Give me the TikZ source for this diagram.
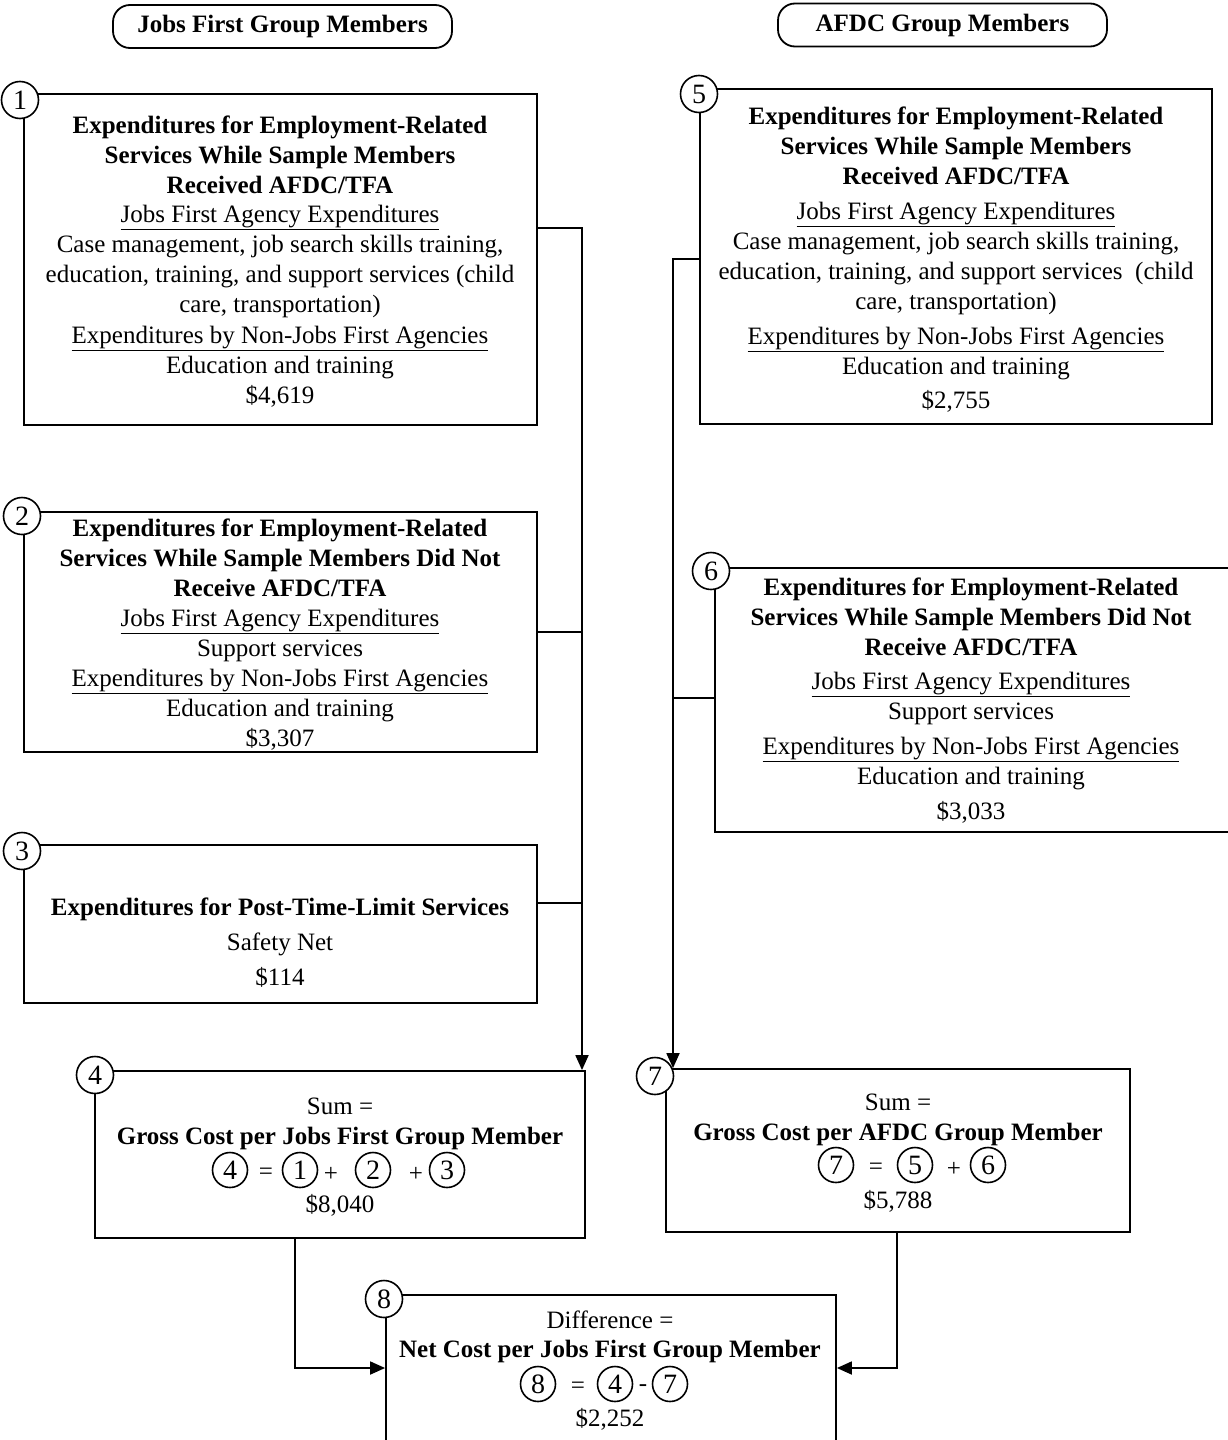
\documentclass[tikz,border=0pt]{standalone}
\usepackage{fontspec}
\setmainfont{Liberation Serif}
\usetikzlibrary{arrows.meta}
\tikzset{
  base/.style={font=\fontsize{25}{30}\selectfont, inner sep=0pt, text height=17pt, text depth=6pt, yshift=-3pt},
  tb/.style={base, font=\fontsize{25}{30}\selectfont\bfseries},
  tr/.style={base},
  box/.style={draw, line width=1.8pt, inner sep=0pt},
  hdr/.style={draw, line width=1.8pt, rounded corners=17pt, minimum width=#1, minimum height=43pt, font=\fontsize{25}{30}\selectfont\bfseries, inner sep=0pt},
  corner/.style={circle, draw, fill=white, line width=1.6pt, minimum size=37pt, inner sep=0pt, font=\fontsize{28}{30}\selectfont},
  eqc/.style={circle, draw, line width=1.6pt, minimum size=35pt, inner sep=0pt, font=\fontsize{28}{30}\selectfont},
  op/.style={inner sep=0pt, font=\fontsize{25}{30}\selectfont, yshift=-4pt},
  conn/.style={line width=1.8pt},
  arr/.style={conn, -{Triangle[length=15pt,width=13pt]}}
}
\begin{document}
\begin{tikzpicture}[x=1pt,y=-1pt]
\useasboundingbox (0,0) rectangle (1227,1440);
% headers
\node[hdr=339pt] (h1) at (282.5,26.5) {Jobs First Group Members};
\node[hdr=329pt] (h2) at (942.5,25) {AFDC Group Members};
% boxes
\node[box, minimum width=513pt, minimum height=331pt] (b1) at (280.5,259.5) {};
\node[box, minimum width=513pt, minimum height=240pt] (b2) at (280.5,632) {};
\node[box, minimum width=513pt, minimum height=158pt] (b3) at (280.5,924) {};
\node[box, minimum width=490pt, minimum height=167pt] (b4) at (340,1154.5) {};
\node[box, minimum width=512pt, minimum height=335pt] (b5) at (956,256.5) {};
\node[box, minimum width=525pt, minimum height=264pt] (b6) at (977.5,700) {};
\node[box, minimum width=464pt, minimum height=163pt] (b7) at (898,1150.5) {};
\node[box, minimum width=450pt, minimum height=160pt] (b8) at (611,1375) {};
% box 1 text
\node[tb] (t11) at (280,125) {Expenditures for Employment-Related};
\node[tb] (t12) at (280,155) {Services While Sample Members};
\node[tb] (t13) at (280,185) {Received AFDC/TFA};
\node[tr] (t14) at (280,214) {\underline{Jobs First Agency Expenditures}};
\node[tr] (t15) at (280,244) {Case management, job search skills training,};
\node[tr] (t16) at (280,274) {education, training, and support services (child};
\node[tr] (t17) at (280,304) {care, transportation)};
\node[tr] (t18) at (280,335) {\underline{Expenditures by Non-Jobs First Agencies}};
\node[tr] (t19) at (280,365) {Education and training};
\node[tr] (t110) at (280,395) {\$4,619};
% box 2 text
\node[tb] (t21) at (280,528) {Expenditures for Employment-Related};
\node[tb] (t22) at (280,558) {Services While Sample Members Did Not};
\node[tb] (t23) at (280,588) {Receive AFDC/TFA};
\node[tr] (t24) at (280,618) {\underline{Jobs First Agency Expenditures}};
\node[tr] (t25) at (280,648) {Support services};
\node[tr] (t26) at (280,678) {\underline{Expenditures by Non-Jobs First Agencies}};
\node[tr] (t27) at (280,708) {Education and training};
\node[tr] (t28) at (280,738) {\$3,307};
% box 3 text
\node[tb] (t31) at (280,907) {Expenditures for Post-Time-Limit Services};
\node[tr] (t32) at (280,942) {Safety Net};
\node[tr] (t33) at (280,977) {\$114};
% box 4 text
\node[tr] (t41) at (340,1106) {Sum =};
\node[tb] (t42) at (340,1136) {Gross Cost per Jobs First Group Member};
\node[eqc] (e41) at (230,1170) {4};
\node[op] (o41) at (266,1170) {=};
\node[eqc] (e42) at (300,1170) {1};
\node[op] (o42) at (331,1170) {+};
\node[eqc] (e43) at (373,1170) {2};
\node[op] (o43) at (416,1170) {+};
\node[eqc] (e44) at (447,1170) {3};
\node[tr] (t44) at (340,1204) {\$8,040};
% box 5 text
\node[tb] (t51) at (956,116) {Expenditures for Employment-Related};
\node[tb] (t52) at (956,146) {Services While Sample Members};
\node[tb] (t53) at (956,176) {Received AFDC/TFA};
\node[tr] (t54) at (956,211) {\underline{Jobs First Agency Expenditures}};
\node[tr] (t55) at (956,241) {Case management, job search skills training,};
\node[tr] (t56) at (956,271) {education, training, and support services\ \ (child};
\node[tr] (t57) at (956,301) {care, transportation)};
\node[tr] (t58) at (956,336) {\underline{Expenditures by Non-Jobs First Agencies}};
\node[tr] (t59) at (956,366) {Education and training};
\node[tr] (t510) at (956,400) {\$2,755};
% box 6 text
\node[tb] (t61) at (971,587) {Expenditures for Employment-Related};
\node[tb] (t62) at (971,617) {Services While Sample Members Did Not};
\node[tb] (t63) at (971,647) {Receive AFDC/TFA};
\node[tr] (t64) at (971,681) {\underline{Jobs First Agency Expenditures}};
\node[tr] (t65) at (971,711) {Support services};
\node[tr] (t66) at (971,746) {\underline{Expenditures by Non-Jobs First Agencies}};
\node[tr] (t67) at (971,776) {Education and training};
\node[tr] (t68) at (971,811) {\$3,033};
% box 7 text
\node[tr] (t71) at (898,1102) {Sum =};
\node[tb] (t72) at (898,1132) {Gross Cost per AFDC Group Member};
\node[eqc] (e71) at (836,1165) {7};
\node[op] (o71) at (876,1165) {=};
\node[eqc] (e72) at (915,1165) {5};
\node[op] (o72) at (954,1165) {+};
\node[eqc] (e73) at (988,1165) {6};
\node[tr] (t74) at (898,1200) {\$5,788};
% box 8 text
\node[tr] (t81) at (610,1320) {Difference =};
\node[tb] (t82) at (610,1349) {Net Cost per Jobs First Group Member};
\node[eqc] (e81) at (538,1384) {8};
\node[op] (o81) at (578,1384) {=};
\node[eqc] (e82) at (615,1384) {4};
\node[op] (o82) at (643,1384) {-};
\node[eqc] (e83) at (670,1384) {7};
\node[tr] (t84) at (610,1418) {\$2,252};
% connector coordinates
\coordinate (lb1) at (582,228);
\coordinate (lb3) at (582,903);
\coordinate (rb5) at (673,259);
\coordinate (rb6) at (673,698);
\coordinate (l8) at (295,1368);
\coordinate (r8) at (897,1368);
% connectors
\draw[arr] (b1.east |- lb1) -- (lb1) -- (lb1 |- b4.north);
\draw[conn] (b2.east) -- (b2.east -| lb1);
\draw[conn] (b3.east |- lb3) -- (lb3);
\draw[arr] (b5.west |- rb5) -- (rb5) -- (rb5 |- b7.north);
\draw[conn] (b6.west |- rb6) -- (rb6);
\draw[arr] (b4.south -| l8) -- (l8) -- (l8 -| b8.west);
\draw[arr] (b7.south -| r8) -- (r8) -- (r8 -| b8.east);
% corner circles
\node[corner] (c1) at (20,100) {1};
\node[corner] (c2) at (22,516) {2};
\node[corner] (c3) at (22,851) {3};
\node[corner] (c4) at (95,1075) {4};
\node[corner] (c5) at (699,94) {5};
\node[corner] (c6) at (711,571) {6};
\node[corner] (c7) at (655,1076) {7};
\node[corner] (c8) at (384,1299) {8};
\end{tikzpicture}
\end{document}
